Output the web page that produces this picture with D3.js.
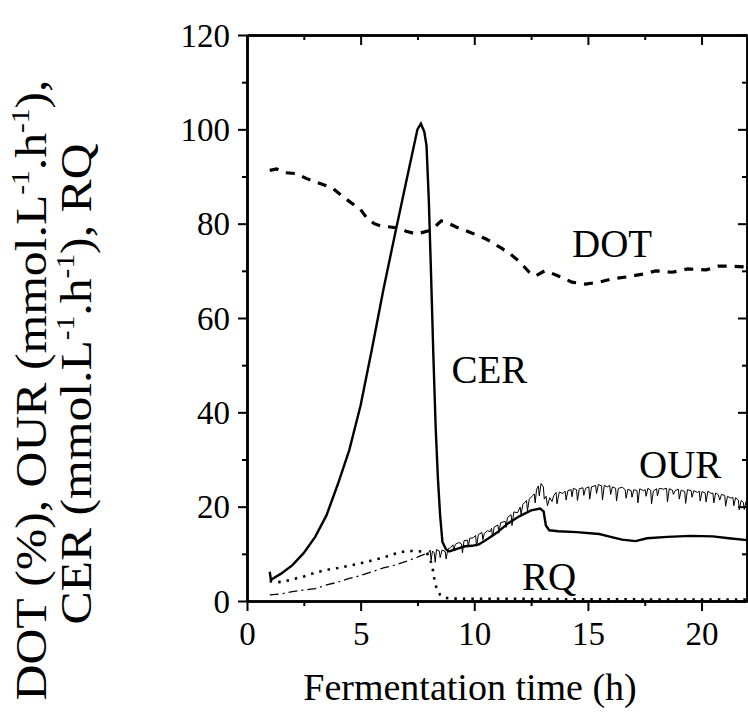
<!DOCTYPE html>
<html><head><meta charset="utf-8">
<script src="https://cdn.jsdelivr.net/npm/d3@7"></script>
<style>body{margin:0;background:#fff}</style>
</head><body><svg id="c" width="748" height="717"></svg>
<script>
const xTicks=[0,5,10,15,20];
const yTicks=[0,20,40,60,80,100,120];
const cer=[[1.0,6.2],[1.05,4.5],[1.5,5.8],[2.0,7.6],[2.5,10.2],[3.0,13.6],[3.5,18.2],[4.0,24.8],[4.5,32.0],[5.0,41.5],[5.5,53.5],[6.0,66.0],[6.5,77.5],[7.0,88.8],[7.3,95.5],[7.5,100.0],[7.65,101.2],[7.8,99.5],[7.9,96.5],[8.0,85],[8.1,69],[8.2,52],[8.3,37],[8.4,26],[8.5,18],[8.6,12.5],[8.75,11.0],[8.9,10.5],[9.2,11.0],[9.6,11.6],[9.9,11.7],[10.2,12.0],[10.6,13.2],[11.0,14.5],[11.5,16.5],[12.0,18.0],[12.5,19.2],[12.9,19.6],[13.05,19.0],[13.15,16.0],[13.3,15.0],[13.7,14.8],[14.5,14.6],[15.5,14.2],[16.0,13.6],[16.5,13.0],[17.1,12.7],[17.6,13.3],[18.5,13.6],[19.5,13.8],[20.5,13.7],[21.2,13.3],[22.0,12.9]];
const dot=[[1.0,91.3],[1.3,91.6],[1.7,90.8],[2.2,90.6],[2.6,89.6],[3.0,88.9],[3.4,88.2],[3.8,87.4],[4.2,85.8],[4.65,84.2],[5.0,83.0],[5.3,81.0],[5.6,80.0],[5.9,79.5],[6.3,79.3],[6.6,79.1],[7.0,78.4],[7.45,77.8],[8.0,78.5],[8.3,79.5],[8.55,80.6],[8.9,80.0],[9.2,79.3],[9.8,78.2],[10.5,76.8],[11.2,74.8],[11.6,73.5],[12.0,71.9],[12.4,69.8],[12.7,68.9],[13.1,70.0],[13.4,69.5],[13.7,68.9],[14.3,67.6],[14.9,67.2],[15.5,67.6],[16.05,68.3],[16.7,68.7],[17.4,69.3],[18.0,70.0],[18.7,69.7],[19.4,70.4],[20.2,70.2],[20.75,71.0],[21.3,71.0],[22.0,70.8]];
const ourEarly=[[1.0,1.3],[1.5,1.5],[2.0,2.0],[2.5,2.3],[3.0,2.6],[3.5,3.4],[4.0,4.0],[4.5,4.8],[5.0,5.4],[5.5,6.2],[6.0,7.0],[6.5,7.6],[7.0,8.4],[7.5,9.3],[8.0,10.3]];
const ourLate=[[8.0,10.3],[8.06,10.8],[8.1,8.6],[8.16,10.6],[8.24,10.2],[8.28,8.2],[8.34,10.9],[8.46,10.6],[8.5,9.2],[8.58,10.8],[8.72,10.5],[8.76,8.9],[8.84,11.0],[8.95,11.3],
[9.06,11.9],[9.1,10.6],[9.16,12.0],[9.32,12.4],[9.44,12.1],[9.48,10.2],[9.55,12.8],[9.7,12.9],[9.74,11.6],[9.8,13.3],[9.95,13.4],
[10.06,13.9],[10.1,11.6],[10.18,14.1],[10.34,14.5],[10.38,13.0],[10.44,14.3],[10.58,14.9],[10.7,14.7],[10.76,15.4],[10.8,13.6],[10.88,15.7],
[11.04,16.1],[11.08,14.4],[11.16,16.6],[11.36,16.9],[11.4,15.6],[11.46,17.7],[11.62,18.3],[11.66,16.0],[11.74,18.9],[11.9,18.7],
[12.02,19.9],[12.06,18.4],[12.14,20.5],[12.3,21.3],[12.34,19.1],[12.42,21.6],[12.56,22.3],[12.64,22.7],[12.68,20.8],[12.74,23.6],[12.82,24.4],[12.86,22.3],[12.94,24.9],
[13.04,24.2],[13.08,21.6],[13.16,22.2],[13.22,20.2],[13.32,21.9],[13.42,21.1],[13.5,22.4],[13.6,23.0],[13.64,20.6],[13.74,23.1],[13.9,22.8],
[14.0,23.3],[14.04,21.4],[14.12,23.4],[14.26,23.6],[14.3,22.1],[14.36,23.9],[14.5,23.6],[14.54,21.3],[14.62,23.8],[14.78,24.0],[14.82,22.4],[14.9,23.9],
[15.04,24.2],[15.08,21.6],[15.16,24.2],[15.34,24.5],[15.38,22.8],[15.46,24.7],[15.6,24.4],[15.64,21.4],[15.72,24.5],[15.86,24.2],[15.96,24.5],
[16.0,22.6],[16.08,24.2],[16.22,23.9],[16.26,21.2],[16.34,23.9],[16.52,24.1],[16.64,23.6],[16.68,21.8],[16.76,23.7],[16.9,23.4],[16.94,22.0],
[17.02,23.6],[17.16,23.4],[17.2,20.8],[17.28,23.8],[17.44,23.4],[17.52,23.6],[17.56,22.2],[17.64,23.9],[17.76,23.5],[17.8,20.6],[17.88,23.3],
[18.02,23.8],[18.06,22.3],[18.14,23.9],[18.32,23.7],[18.46,23.9],[18.5,21.0],[18.58,23.8],[18.72,23.5],[18.76,22.6],[18.84,23.4],[18.98,23.7],
[19.02,21.6],[19.1,23.5],[19.26,23.2],[19.3,20.7],[19.38,23.6],[19.54,23.4],[19.58,22.0],[19.66,23.4],[19.82,23.0],[19.9,23.3],[19.94,21.2],
[20.02,23.2],[20.16,22.9],[20.2,21.0],[20.28,23.3],[20.42,22.8],[20.5,22.9],[20.54,20.8],[20.62,22.9],[20.74,22.5],[20.8,21.4],[20.88,22.6],
[21.02,22.4],[21.06,20.1],[21.14,22.2],[21.3,21.8],[21.38,22.0],[21.42,20.2],[21.5,21.9],[21.62,21.4],[21.66,19.3],[21.74,21.3],[21.84,20.9],[21.88,19.4],[21.96,21.1],[22.0,20.6]];
const rq=[[1.0,4.2],[1.5,4.0],[2.0,4.6],[2.5,5.2],[3.0,6.0],[3.5,6.6],[4.0,7.0],[4.5,7.5],[5.0,8.0],[5.5,8.6],[6.0,9.2],[6.5,10.0],[7.0,10.6],[7.5,10.6],[7.9,10.3],[8.05,9.0],[8.15,7.4],[8.25,4.5],[8.35,2.5],[8.5,1.3],[8.7,0.7],[9.0,0.5],[12.0,0.45],[15.0,0.35],[22.0,0.3]];
const seriesLabels=[{t:"DOT",x:14.3,y:73.0},{t:"CER",x:9.0,y:46.3},{t:"OUR",x:17.25,y:26.1},{t:"RQ",x:12.1,y:2.3}];

(function(){
const FONT="'Liberation Serif','Times New Roman',Times,serif";
const L=247,R=747,T=35,B=601;
const x=d3.scaleLinear().domain([0,22]).range([L,R]);
const y=d3.scaleLinear().domain([0,120]).range([B,T]);
const svg=d3.select("#c").attr("font-family",FONT);
const line=d3.line().x(d=>x(d[0])).y(d=>y(d[1]));

svg.append("path").datum(cer).attr("d",line).attr("fill","none").attr("stroke","#000").attr("stroke-width",2.4);
svg.append("path").datum(dot).attr("d",line).attr("fill","none").attr("stroke","#000").attr("stroke-width",3.2).attr("stroke-dasharray","9,8");
svg.append("path").datum(ourEarly).attr("d",line).attr("fill","none").attr("stroke","#000").attr("stroke-width",1.3).attr("stroke-dasharray","9,4,2,4");
svg.append("path").datum(ourLate).attr("d",line).attr("fill","none").attr("stroke","#000").attr("stroke-width",1.0);
svg.append("path").datum(rq).attr("d",line).attr("fill","none").attr("stroke","#000").attr("stroke-width",2.6).attr("stroke-dasharray","2.5,6");

const ax=(g,axis)=>{g.call(axis);g.attr("font-family",FONT);g.selectAll(".domain").attr("stroke-width",2.5);g.selectAll(".tick line").attr("stroke-width",2);};
const minorX=[2.5,7.5,12.5,17.5];
const minorY=[10,30,50,70,90,110];
const gB=svg.append("g").attr("transform",`translate(0,${B})`);
ax(gB,d3.axisBottom(x).tickValues(xTicks).tickSize(10).tickSizeOuter(0).tickPadding(6));
gB.selectAll("text").attr("font-size",33).attr("font-family",FONT).attr("dy","0.85em");
const gBm=svg.append("g").attr("transform",`translate(0,${B})`);
ax(gBm,d3.axisBottom(x).tickValues(minorX).tickSize(5).tickSizeOuter(0).tickFormat(""));
const gL=svg.append("g").attr("transform",`translate(${L},0)`);
ax(gL,d3.axisLeft(y).tickValues(yTicks).tickSize(9).tickSizeOuter(0).tickPadding(8));
gL.selectAll("text").attr("font-size",33).attr("font-family",FONT).attr("dy","0.34em");
const gLm=svg.append("g").attr("transform",`translate(${L},0)`);
ax(gLm,d3.axisLeft(y).tickValues(minorY).tickSize(5).tickSizeOuter(0).tickFormat(""));
const gT=svg.append("g").attr("transform",`translate(0,${T})`);
ax(gT,d3.axisTop(x).tickValues(xTicks).tickSize(-10).tickSizeOuter(0).tickFormat(""));
const gTm=svg.append("g").attr("transform",`translate(0,${T})`);
ax(gTm,d3.axisTop(x).tickValues(minorX).tickSize(-5).tickSizeOuter(0).tickFormat(""));
const gR=svg.append("g").attr("transform",`translate(${R},0)`);
ax(gR,d3.axisRight(y).tickValues(yTicks).tickSize(-9).tickSizeOuter(0).tickFormat(""));
const gRm=svg.append("g").attr("transform",`translate(${R},0)`);
ax(gRm,d3.axisRight(y).tickValues(minorY).tickSize(-5).tickSizeOuter(0).tickFormat(""));
svg.selectAll(".tick text").each(function(){ if(!this.textContent) d3.select(this).remove(); });

svg.selectAll(".sl").data(seriesLabels).enter().append("text").attr("class","sl").attr("font-family",FONT)
  .attr("x",d=>x(d.x)).attr("y",d=>y(d.y)).attr("font-size",39).text(d=>d.t);

svg.append("text").attr("font-family",FONT).attr("x",470).attr("y",700).attr("text-anchor","middle").attr("font-size",38).text("Fermentation time (h)");
function ylab(cx,cy,sx,parts){
  const t=svg.append("text").attr("font-family",FONT).attr("transform",`translate(${cx},${cy}) rotate(-90) scale(${sx},1)`).attr("text-anchor","middle").attr("font-size",44);
  let back=0;
  parts.forEach(p=>{
    const ts=t.append("tspan").text(p.s);
    if(p.sup){ts.attr("font-size",26).attr("dy",-17);back=17;}
    else if(back){ts.attr("dy",back);back=0;}
  });
}
ylab(46,390,1.13,[{s:"DOT (%), OUR (mmol.L"},{s:"-1",sup:1},{s:".h"},{s:"-1",sup:1},{s:"),"}]);
ylab(91,384,1.13,[{s:"CER (mmol.L"},{s:"-1",sup:1},{s:".h"},{s:"-1",sup:1},{s:"), RQ"}]);
})();
</script></body></html>
